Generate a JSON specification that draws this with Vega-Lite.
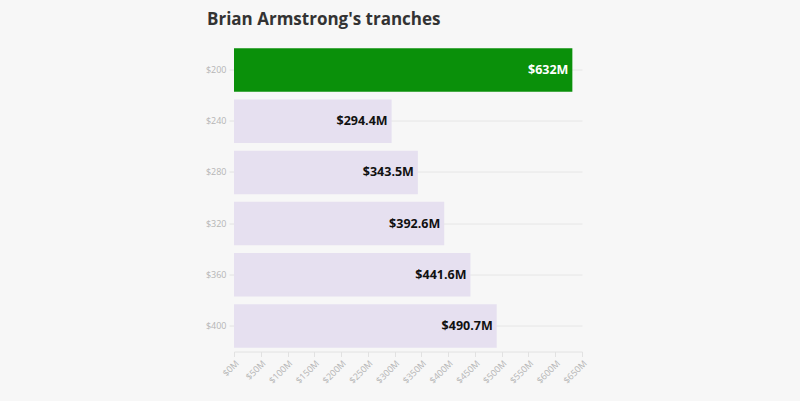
{
  "$schema": "https://vega.github.io/schema/vega-lite/v6.json",
  "width": 348,
  "height": 307,
  "autosize": {"type": "none"},
  "padding": {"left": 234, "top": 44.5, "right": 218, "bottom": 49.5},
  "background": "#f7f7f7",
  "title": {
    "text": "Brian Armstrong's tranches",
    "anchor": "start",
    "frame": "group",
    "dx": -27,
    "offset": 16,
    "font": "Open Sans",
    "fontSize": 17,
    "fontWeight": "bold",
    "color": "#333333"
  },
  "data": {
    "values": [
      {"strike": "$200", "value": 632, "label": "$632M", "current": "yes"},
      {"strike": "$240", "value": 294.4, "label": "$294.4M", "current": "no"},
      {"strike": "$280", "value": 343.5, "label": "$343.5M", "current": "no"},
      {"strike": "$320", "value": 392.6, "label": "$392.6M", "current": "no"},
      {"strike": "$360", "value": 441.6, "label": "$441.6M", "current": "no"},
      {"strike": "$400", "value": 490.7, "label": "$490.7M", "current": "no"}
    ]
  },
  "config": {
    "view": {"stroke": null},
    "axis": {"labelFont": "Open Sans", "labelColor": "#b5b5b5", "labelFontSize": 9, "tickColor": "#e2e2e2", "domainColor": "#e2e2e2", "gridColor": "#e6e6e6"}
  },
  "encoding": {
    "y": {
      "field": "strike",
      "type": "nominal",
      "sort": "ascending",
      "title": null,
      "scale": {"paddingInner": 0.15, "paddingOuter": 0.075},
      "axis": {"domain": false, "grid": true, "tickSize": 5, "labelPadding": 3, "zindex": 0}
    },
    "x": {
      "field": "value",
      "type": "quantitative",
      "title": null,
      "scale": {"domain": [0, 650], "nice": false},
      "axis": {"values": [0,50,100,150,200,250,300,350,400,450,500,550,600,650], "labelExpr": "'$' + datum.value + 'M'", "labelAngle": -45, "grid": false, "tickSize": 5, "labelPadding": 2}
    }
  },
  "layer": [
    {
      "mark": {"type": "bar"},
      "encoding": {
        "color": {"field": "current", "type": "nominal", "scale": {"domain": ["yes", "no"], "range": ["#0a900a", "#e6e0f0"]}, "legend": null}
      }
    },
    {
      "mark": {"type": "text", "align": "right", "dx": -4, "font": "Open Sans", "fontSize": 12.5, "fontWeight": "bold", "baseline": "middle"},
      "encoding": {
        "text": {"field": "label"},
        "color": {"condition": {"test": "datum.current === 'yes'", "value": "#ffffff"}, "value": "#111111"}
      }
    }
  ]
}
